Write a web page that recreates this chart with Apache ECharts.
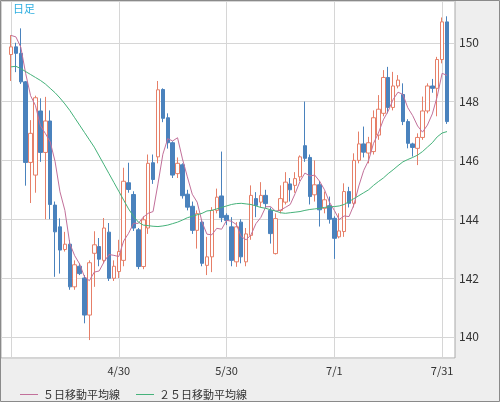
<!DOCTYPE html>
<html><head><meta charset="utf-8">
<script src="https://cdn.jsdelivr.net/npm/echarts@6/dist/echarts.min.js"></script>
<style>html,body{margin:0;padding:0;background:#fff}#c{width:500px;height:402px}</style>
</head><body><div id="c"></div>
<script>
const dates = ['3/29','4/1','4/2','4/3','4/4','4/5','4/8','4/9','4/10','4/11','4/12',
'4/15','4/16','4/17','4/18','4/19','4/22','4/23','4/24','4/25','4/26','4/29','4/30',
'5/1','5/2','5/3','5/6','5/7','5/8','5/9','5/10','5/13','5/14','5/15','5/16','5/17',
'5/20','5/21','5/22','5/23','5/24','5/27','5/28','5/29','5/30','5/31',
'6/3','6/4','6/5','6/6','6/7','6/10','6/11','6/12','6/13','6/14','6/17','6/18','6/19','6/20','6/21',
'6/24','6/25','6/26','6/27','6/28','7/1','7/2','7/3','7/4','7/5','7/8','7/9','7/10','7/11','7/12',
'7/15','7/16','7/17','7/18','7/19','7/22','7/23','7/24','7/25','7/26','7/29','7/30','7/31','8/1'];

const opens = [149.6,149.86,149.64,148.67,145.93,145.5,147.68,146.27,147.34,144.48,
143.74,142.97,143.15,141.7,142.4,142.0,140.74,142.84,143.07,142.6,
143.56,141.99,142.22,142.6,145.24,144.84,143.64,142.39,143.7,145.92,
146.12,148.41,147.45,146.6,145.55,145.85,144.85,144.44,143.62,143.9,
142.43,142.72,144.3,144.79,144.13,143.74,142.55,143.9,142.55,143.45,
144.7,144.58,144.81,144.3,142.83,144.3,144.58,145.2,145.15,145.44,
146.5,146.1,144.83,145.17,144.37,144.46,144.03,143.4,143.58,144.94,
144.54,146.0,146.56,146.25,146.3,146.86,147.6,148.82,147.8,148.53,
148.24,147.32,146.56,146.41,146.78,147.68,148.53,148.45,149.43,150.71];

const closes = [149.86,149.64,148.67,145.93,146.92,148.13,146.27,147.34,144.5,143.57,
142.95,143.15,141.7,142.45,142.15,140.74,142.52,143.13,142.64,143.7,
141.99,142.4,142.9,145.29,145.01,143.7,142.39,143.98,145.9,145.35,
148.4,147.43,146.6,145.5,145.9,144.8,144.41,143.62,144.19,142.5,
142.72,144.3,144.75,144.05,143.96,142.6,143.74,142.72,143.5,144.81,
144.47,144.81,144.53,143.51,144.02,144.7,145.26,145.0,145.38,146.12,
146.07,144.77,145.17,144.32,144.66,144.0,143.35,143.6,144.94,144.54,
146.0,146.56,146.28,146.6,147.45,147.74,148.82,147.8,148.53,148.73,
147.32,146.58,146.44,146.78,147.68,148.53,148.45,149.43,150.71,147.32];

const lows = [148.7,149.0,148.6,145.14,144.55,144.9,145.95,144.0,144.0,142.04,
142.15,142.9,141.6,141.6,142.1,140.46,139.89,141.7,142.4,142.5,
141.9,141.9,142.0,142.4,144.9,143.6,142.3,142.3,143.5,145.2,
145.9,147.3,146.4,145.4,145.4,144.7,144.3,143.5,143.0,142.4,
142.1,142.2,144.2,143.9,143.8,142.4,142.38,142.5,142.4,143.3,
144.07,144.4,144.4,143.17,142.8,144.2,144.5,144.6,144.9,145.3,
145.95,144.5,144.6,143.75,144.2,143.85,142.65,143.35,143.4,144.4,
144.4,145.9,146.1,145.9,146.2,146.7,147.5,147.6,147.7,148.45,
147.2,146.41,146.13,145.84,146.7,147.6,148.3,147.5,149.3,147.24];

const highs = [150.26,150.0,150.49,148.7,147.37,148.2,148.11,148.16,147.7,144.6,
144.03,143.57,143.29,142.6,142.5,142.1,142.6,143.59,143.36,144.04,
143.87,142.6,143.3,145.75,145.92,144.95,143.7,144.1,146.2,146.2,
148.7,148.45,147.6,146.65,146.1,145.9,145.0,144.6,144.3,144.0,
143.4,144.41,145.04,146.3,144.2,144.07,143.9,144.0,143.7,145.15,
144.92,145.26,145.0,144.4,144.2,145.15,145.6,145.4,145.6,146.17,
148.0,146.2,146.0,145.3,144.94,144.77,144.1,144.2,145.22,145.1,
146.24,146.98,147.15,146.8,147.7,148.22,149.07,149.18,149.01,148.9,
148.62,147.4,146.6,146.92,148.17,148.62,148.77,149.52,150.86,150.9];

const ma5 = [150.25,150.2,149.85,148.95,148.2,147.86,147.18,146.92,146.63,145.96,
144.93,144.3,143.17,142.76,142.48,142.04,141.91,142.2,142.24,142.55,
142.8,142.77,142.73,143.26,143.52,143.86,143.86,144.07,144.2,144.26,
145.2,146.21,146.74,146.66,146.77,146.05,145.44,144.85,144.58,143.9,
143.49,143.47,143.69,143.66,143.96,143.93,143.82,143.41,143.3,143.47,
143.85,144.06,144.42,144.43,144.27,144.31,144.4,144.5,144.87,145.29,
145.57,145.47,145.5,145.29,145.0,144.58,144.3,143.99,144.11,144.09,
144.49,145.13,145.66,146.0,146.58,146.93,147.38,147.68,148.07,148.32,
148.24,147.79,147.52,147.17,146.96,147.2,147.58,148.17,148.96,148.89];

const ma25 = [149.18,149.2,149.12,149.02,148.92,148.82,148.72,148.6,148.45,148.3,
148.12,147.92,147.7,147.45,147.2,146.95,146.7,146.45,146.15,145.85,
145.55,145.25,144.95,144.65,144.35,144.1,143.9,143.8,143.78,143.76,
143.75,143.77,143.8,143.85,143.9,143.97,144.05,144.1,144.15,144.2,
144.28,144.3,144.35,144.4,144.45,144.5,144.53,144.54,144.52,144.5,
144.45,144.4,144.37,144.32,144.28,144.22,144.2,144.22,144.24,144.26,
144.3,144.33,144.35,144.37,144.4,144.42,144.43,144.45,144.5,144.6,
144.7,144.8,144.9,145.0,145.15,145.28,145.4,145.55,145.68,145.82,
145.95,146.03,146.1,146.18,146.3,146.45,146.6,146.8,146.93,146.98];

const seriesNames = ['５日移動平均線', '２５日移動平均線'];
const periodLabel = '日足';

const FONT = '"Noto Sans CJK JP", "Noto Sans", sans-serif';
const YMIN = 139.28, YMAX = 151.42;
const UP = '#e67f68', DOWN = '#4a82bd', MA5C = '#c2709a', MA25C = '#45b27a';

const chart = echarts.init(document.getElementById('c'), null, {renderer: 'canvas'});
chart.setOption({
  animation: false,
  backgroundColor: '#eeeeee',
  textStyle: {fontFamily: FONT},
  graphic: [
    {type: 'rect', silent: true, z: 100, shape: {x: 0.5, y: 0.5, width: 499, height: 401},
     style: {fill: null, stroke: '#8a8a8a', lineWidth: 1}},
    {type: 'text', left: 13, top: 3, z: 100, style: {text: periodLabel, fill: '#2eaee0', font: '11px ' + FONT}}
  ],
  grid: [
    {left: 1, right: 45, top: 1, bottom: 44, show: true, backgroundColor: '#ffffff', borderColor: '#a8a8a8', borderWidth: 1},
    {left: 11, right: 53, top: 1, bottom: 44}
  ],
  xAxis: [
    {gridIndex: 0, type: 'value', min: 0, max: 1, show: false},
    {gridIndex: 1, type: 'category', data: dates, boundaryGap: false,
     axisLine: {show: false}, axisTick: {show: false},
     axisLabel: {interval: 21, formatter: (v, i) => i === 0 ? '' : v, color: '#333', fontSize: 11, margin: 7, fontFamily: FONT},
     splitLine: {show: true, interval: 21, lineStyle: {color: '#d6d6d6', width: 1}}}
  ],
  yAxis: [
    {gridIndex: 0, type: 'value', position: 'right', min: YMIN, max: YMAX, splitNumber: 6,
     axisLine: {show: false}, axisTick: {show: false},
     axisLabel: {color: '#333', fontSize: 12, margin: 4, fontFamily: FONT,
       formatter: v => (Math.abs(v - Math.round(v)) < 1e-6 && Math.round(v) % 2 === 0) ? String(Math.round(v)) : ''},
     splitLine: {show: true, lineStyle: {color: '#d6d6d6', width: 1}}},
    {gridIndex: 1, type: 'value', min: YMIN, max: YMAX, show: false}
  ],
  legend: {
    left: 15, top: 384, icon: 'rect', itemWidth: 18, itemHeight: 1, itemGap: 16,
    textStyle: {color: '#333', fontSize: 11, fontFamily: FONT},
    data: seriesNames
  },
  series: [
    {type: 'candlestick', xAxisIndex: 1, yAxisIndex: 1, barWidth: 4,
     data: dates.map((d, i) => [opens[i], closes[i], lows[i], highs[i]]),
     itemStyle: {color: '#ffffff', color0: DOWN, borderColor: UP, borderColor0: DOWN, borderWidth: 1}},
    {type: 'line', name: seriesNames[0], xAxisIndex: 1, yAxisIndex: 1, data: ma5, symbol: 'none',
     lineStyle: {color: MA5C, width: 1}, itemStyle: {color: MA5C}},
    {type: 'line', name: seriesNames[1], xAxisIndex: 1, yAxisIndex: 1, data: ma25, symbol: 'none',
     lineStyle: {color: MA25C, width: 1}, itemStyle: {color: MA25C}}
  ]
});
</script></body></html>
